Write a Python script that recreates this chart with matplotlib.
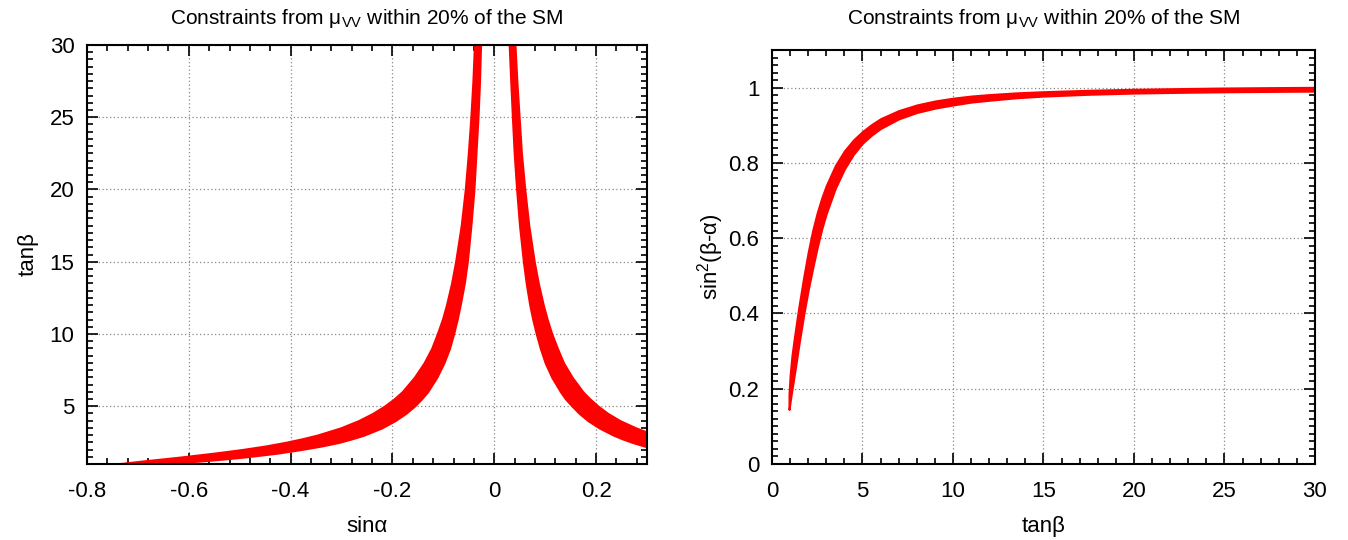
import numpy as np
import matplotlib
matplotlib.use("Agg")
import matplotlib.pyplot as plt
from matplotlib.ticker import MultipleLocator

plt.rcParams["font.family"] = ["Liberation Sans", "DejaVu Sans"]
plt.rcParams["mathtext.fontset"] = "custom"
plt.rcParams["mathtext.rm"] = "Liberation Sans"

# ------------------------------------------------------------------
# left panel: allowed band in (sin a, tan b), two branches
# ------------------------------------------------------------------
tb_left = [1.0, 1.1, 1.2, 1.35, 1.5, 1.75, 2.0, 2.25, 2.5, 2.75, 3.0, 3.5,
           4.0, 4.5, 5.0, 5.5, 6.0, 7.0, 8.0, 9.0, 10.0, 11.0, 12.0, 13.5,
           15.0, 17.5, 20.0, 22.5, 25.0, 27.5, 30.0]
sa_left_lo = [-0.742, -0.718, -0.693, -0.652, -0.612, -0.551, -0.496, -0.449,
              -0.410, -0.377, -0.348, -0.302, -0.267, -0.239, -0.216, -0.197,
              -0.181, -0.157, -0.138, -0.123, -0.112, -0.102, -0.094, -0.084,
              -0.076, -0.065, -0.057, -0.051, -0.046, -0.042, -0.039]
sa_left_hi = [-0.660, -0.620, -0.580, -0.530, -0.487, -0.427, -0.380, -0.339,
              -0.305, -0.279, -0.256, -0.221, -0.195, -0.174, -0.157, -0.143,
              -0.131, -0.113, -0.099, -0.088, -0.080, -0.073, -0.067, -0.059,
              -0.053, -0.046, -0.040, -0.036, -0.032, -0.029, -0.027]

tb_right = [2.0, 2.25, 2.5, 2.75, 3.0, 3.5, 4.0, 4.5, 5.0, 5.5, 6.0, 7.0,
            8.0, 9.0, 10.0, 11.0, 12.0, 13.5, 15.0, 17.5, 20.0, 22.5, 25.0,
            27.5, 30.0]
sa_right_lo = [0.322, 0.294, 0.271, 0.251, 0.234, 0.206, 0.184, 0.167, 0.153,
               0.140, 0.130, 0.113, 0.100, 0.0905, 0.0826, 0.0756, 0.0697,
               0.0628, 0.0572, 0.0496, 0.0439, 0.0391, 0.0356, 0.0323, 0.0293]
sa_right_hi = [0.438, 0.402, 0.371, 0.342, 0.316, 0.278, 0.247, 0.223, 0.204,
               0.188, 0.174, 0.153, 0.136, 0.124, 0.113, 0.104, 0.0963,
               0.0865, 0.0785, 0.0678, 0.0599, 0.0533, 0.0488, 0.0443, 0.0406]

# ------------------------------------------------------------------
# right panel: sin^2(b-a) vs tan b
# ------------------------------------------------------------------
tb = [0.94, 1.0, 1.1, 1.2, 1.35, 1.5, 1.75, 2.0, 2.25, 2.5, 2.75, 3.0, 3.5,
      4.0, 4.5, 5.0, 5.5, 6.0, 7.0, 8.0, 9.0, 10.0, 11.0, 12.0, 13.5, 15.0,
      17.5, 20.0, 22.5, 25.0, 27.5, 30.0]
s2_hi = [0.185, 0.235, 0.287, 0.323, 0.374, 0.422, 0.496, 0.563, 0.621, 0.668,
         0.707, 0.740, 0.793, 0.832, 0.861, 0.8835, 0.902, 0.9175, 0.939,
         0.954, 0.9645, 0.972, 0.9776, 0.9815, 0.9861, 0.9892, 0.993, 0.9956,
         0.9975, 0.999, 1.000, 1.0008]
s2_lo = [0.145, 0.165, 0.197, 0.227, 0.274, 0.322, 0.396, 0.463, 0.521, 0.576,
         0.625, 0.666, 0.733, 0.784, 0.823, 0.8525, 0.874, 0.8915, 0.917,
         0.934, 0.9455, 0.954, 0.9616, 0.9665, 0.9731, 0.9776, 0.9824, 0.9856,
         0.9875, 0.989, 0.990, 0.9908]

RED = "#ff0000"
title = r"Constraints from $\mathregular{\mu_{VV}}$ within 20% of the SM"

fig = plt.figure(figsize=(13.48, 5.4), dpi=100)
ax1 = fig.add_axes([0.0645, 0.1407, 0.4155, 0.776])
ax2 = fig.add_axes([0.5727, 0.1407, 0.4028, 0.7667])


def style(ax):
    ax.tick_params(which="both", direction="in", top=True, right=True,
                   labelsize=16, width=1.2)
    ax.tick_params(axis="x", which="major", pad=12)
    ax.tick_params(axis="y", which="major", pad=9)
    ax.tick_params(which="major", length=8)
    ax.tick_params(which="minor", length=4)
    ax.grid(True, which="major", color="#888888", linestyle=(0, (1, 2)),
            linewidth=0.9)
    ax.set_axisbelow(True)
    for s in ax.spines.values():
        s.set_linewidth(1.5)


ax1.fill_betweenx(tb_left, sa_left_lo, sa_left_hi, color=RED, lw=1.5,
                  edgecolor=RED)
ax1.fill_betweenx(tb_right, sa_right_lo, sa_right_hi, color=RED, lw=1.5,
                  edgecolor=RED)
ax1.set_xlim(-0.8, 0.3)
ax1.set_ylim(1, 30)
ax1.set_xticks([-0.8, -0.6, -0.4, -0.2, 0, 0.2])
ax1.set_xticklabels(["-0.8", "-0.6", "-0.4", "-0.2", "0", "0.2"])
ax1.xaxis.set_minor_locator(MultipleLocator(0.04))
ax1.set_yticks([5, 10, 15, 20, 25, 30])
ax1.yaxis.set_minor_locator(MultipleLocator(0.5))
style(ax1)
ax1.set_xlabel("sinα", fontsize=16, labelpad=10)
ax1.set_ylabel("tanβ", fontsize=16, labelpad=8)
ax1.set_title(title, fontsize=15, pad=15)

ax2.fill_between(tb, s2_lo, s2_hi, color=RED, lw=1.5, edgecolor=RED)
ax2.set_xlim(0, 30)
ax2.set_ylim(0, 1.1)
ax2.xaxis.set_major_locator(MultipleLocator(5))
ax2.xaxis.set_minor_locator(MultipleLocator(1))
ax2.set_yticks([0, 0.2, 0.4, 0.6, 0.8, 1])
ax2.set_yticklabels(["0", "0.2", "0.4", "0.6", "0.8", "1"])
ax2.yaxis.set_minor_locator(MultipleLocator(0.02))
style(ax2)
ax2.set_xlabel("tanβ", fontsize=16, labelpad=10)
ax2.set_ylabel(r"sin$\mathregular{^2}$(β-α)", fontsize=16, labelpad=2)
ax2.set_title(title, fontsize=15, pad=19)

fig.savefig("out.png", dpi=100)
